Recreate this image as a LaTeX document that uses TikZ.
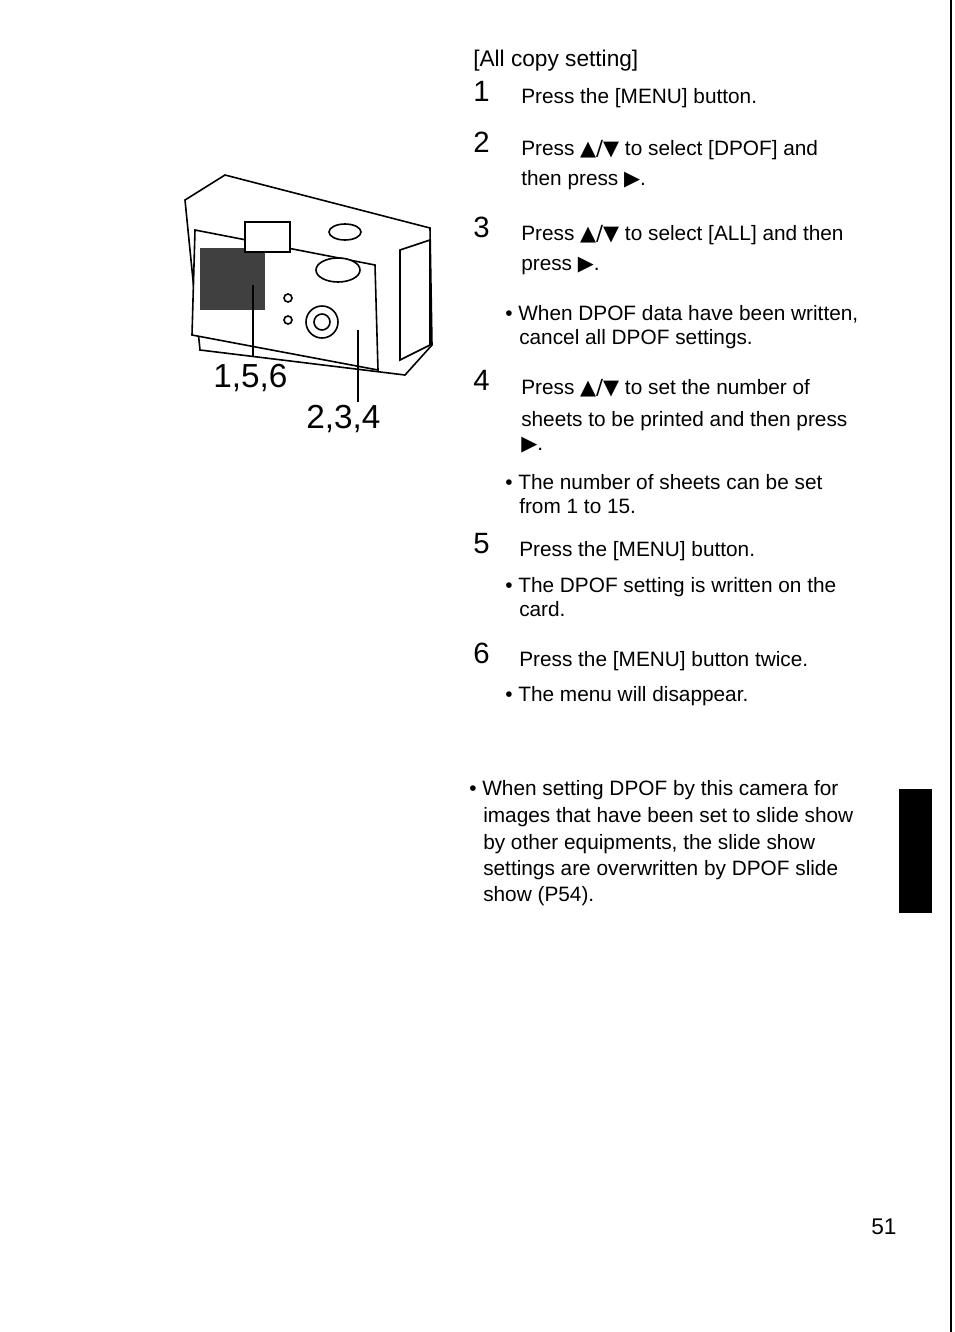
\documentclass[tikz,border=0pt]{standalone}
\usepackage{fontspec}
\setmainfont{Liberation Sans}
\newfontfamily\symfont{DejaVu Sans}
\newcommand{\updown}{{\symfont ▲/▼}}
\newcommand{\rtri}{{\symfont ▶}}
\begin{document}
\begin{tikzpicture}[x=0.75pt,y=-0.75pt,
  txt/.style={anchor=base west,inner sep=0pt,font=\fontsize{15.6}{18}\selectfont},
  num/.style={anchor=base west,inner sep=0pt,font=\fontsize{22}{24}\selectfont},
  callout/.style={anchor=base west,inner sep=0pt,font=\fontsize{25}{28}\selectfont},
  body/.style={draw=black,line width=1.2pt,fill=white},
  lead/.style={draw=black,line width=1pt}]
  \useasboundingbox (0,0) rectangle (954,1332);
  \fill[white] (0,0) rectangle (954,1332);
  % page edge and tab
  \draw[line width=2pt] (951,0) -- (951,1332);
  \fill[black] (899,789) rectangle (932,913);

  % camera
  \draw[body] (185,200) -- (225,175) -- (430,228) -- (432,345) -- (405,375) -- (200,350) -- cycle;
  \draw[body] (195,230) -- (375,265) -- (378,370) -- (192,335) -- cycle;
  \fill[black!75] (200,248) rectangle (265,310);
  \draw[body] (245,222) rectangle (290,252);
  \draw[body] (345,232) ellipse (16 and 8);
  \draw[body] (338,270) ellipse (22 and 12);
  \draw[body] (322,322) circle (16);
  \draw[body] (322,322) circle (8);
  \draw[body] (288,298) circle (4);
  \draw[body] (288,320) circle (4);
  \draw[body] (400,250) -- (430,240) -- (430,345) -- (400,360) -- cycle;
  \node[callout] (c156) at (213,387) {1,5,6};
  \node[callout] (c234) at (306,428) {2,3,4};
  \coordinate (p156) at (253,285);
  \coordinate (p234) at (358,330);
  \draw[lead] (253,357) -- (p156);
  \draw[lead] (358,402) -- (p234);

  % text
  \node[txt,font=\fontsize{17}{20}\selectfont] (title) at (473,66) {[All copy setting]};
  \node[num] (n1) at (473,101) {1};
  \node[txt] (s1) at (521,103) {Press the [MENU] button.};
  \node[num] (n2) at (473,152) {2};
  \node[txt] (s2) at (521,155) {Press \updown\ to select [DPOF] and};
  \node[txt] (s2b) at (521,185) {then press \rtri.};
  \node[num] (n3) at (473,237) {3};
  \node[txt] (s3) at (521,240) {Press \updown\ to select [ALL] and then};
  \node[txt] (s3b) at (521,270) {press \rtri.};
  \node[txt] (b3) at (505,320) {• When DPOF data have been written,};
  \node[txt] (b3b) at (519,344) {cancel all DPOF settings.};
  \node[num] (n4) at (473,390) {4};
  \node[txt] (s4) at (521,394) {Press \updown\ to set the number of};
  \node[txt] (s4b) at (521,426) {sheets to be printed and then press};
  \node[txt] (s4c) at (521,450) {\rtri.};
  \node[txt] (b4) at (505,489) {• The number of sheets can be set};
  \node[txt] (b4b) at (519,513) {from 1 to 15.};
  \node[num] (n5) at (473,553) {5};
  \node[txt] (s5) at (519,556) {Press the [MENU] button.};
  \node[txt] (b5) at (505,592) {• The DPOF setting is written on the};
  \node[txt] (b5b) at (519,616) {card.};
  \node[num] (n6) at (473,663) {6};
  \node[txt] (s6) at (519,666) {Press the [MENU] button twice.};
  \node[txt] (b6) at (505,701) {• The menu will disappear.};
  \node[txt] (n1a) at (469,795) {• When setting DPOF by this camera for};
  \node[txt] (n1b) at (483,822) {images that have been set to slide show};
  \node[txt] (n1c) at (483,849) {by other equipments, the slide show};
  \node[txt] (n1d) at (483,875) {settings are overwritten by DPOF slide};
  \node[txt] (n1e) at (483,901) {show (P54).};
  \node[txt,font=\fontsize{17}{20}\selectfont] (page) at (871,1234) {51};
\end{tikzpicture}
\end{document}
